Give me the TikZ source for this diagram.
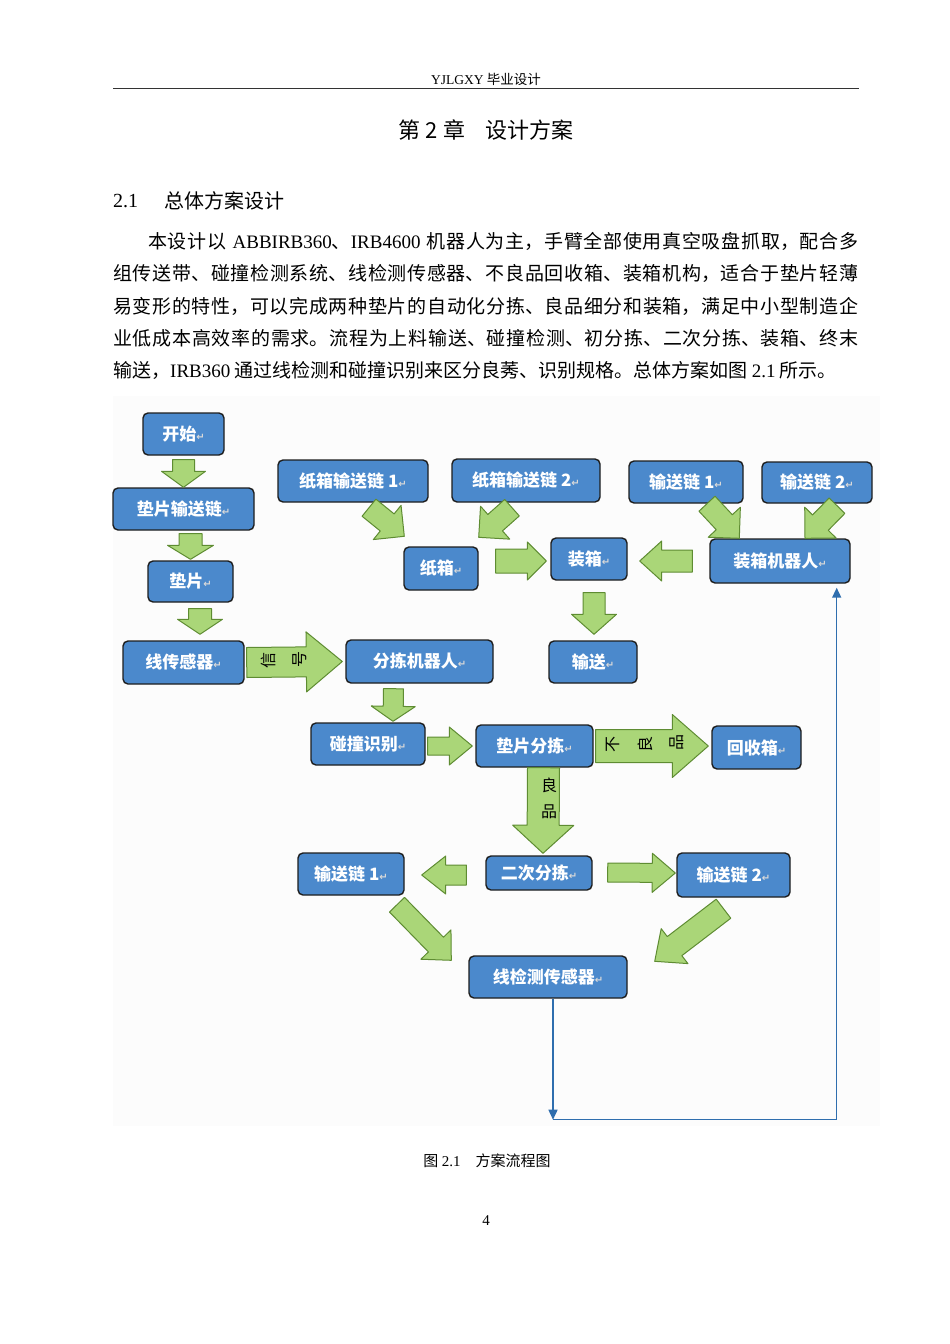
\documentclass[tikz,border=0pt]{standalone}
\usepackage{fontspec}
\setmainfont{Noto Sans CJK SC}
\newfontfamily\lat{Liberation Serif}
\newfontfamily\symf{DejaVu Sans}
\usetikzlibrary{calc,arrows.meta}
\XeTeXlinebreaklocale "zh"
\XeTeXlinebreakskip=0pt plus 1fil
\definecolor{boxblue}{HTML}{4B89CC}
\definecolor{boxline}{HTML}{1E1E1E}
\definecolor{agreen}{HTML}{AAD678}
\definecolor{agreenD}{HTML}{5E8C32}
\definecolor{fbblue}{HTML}{2F6EAE}
\newcommand\ret{{\symf\fontsize{10}{10}\selectfont\color{white!70!gray}↵}}
\newcommand\barrow[5]{%
  \coordinate (ba) at #1; \coordinate (bb) at #2;
  \coordinate (bh) at ($(bb)!#5!(ba)$);
  \draw[blockarrow] ($(ba)!#3!90:(bb)$) -- ($(bh)!#3!90:(bb)$) -- ($(bh)!#4!90:(bb)$) -- (bb)
    -- ($(bh)!#4!-90:(bb)$) -- ($(bh)!#3!-90:(bb)$) -- ($(ba)!#3!-90:(bb)$) -- cycle;}
\tikzset{
  flowbox/.style={draw=boxline, line width=1.4pt, fill=boxblue, rounded corners=5pt,
    inner sep=0pt, text=white, font=\bfseries\fontsize{17}{17}\selectfont},
  blockarrow/.style={fill=agreen, draw=agreenD, line width=1pt, line join=round},
  alabel/.style={inner sep=0pt, text=black, font=\fontsize{16}{16}\selectfont},
  fb/.style={draw=fbblue, line width=1.5pt},
  para/.style={anchor=west, inner sep=0pt, font=\fontsize{19}{21}\selectfont},
}
\begin{document}
\begin{tikzpicture}[x=1pt,y=-1pt]
\fill[white] (0,0) rectangle (950,1344);
\useasboundingbox (0,0) rectangle (950,1344);
% header
\node[inner sep=0pt, font=\fontsize{13.5}{13.5}\selectfont] (hdr) at (486,79) {{\lat YJLGXY} 毕业设计};
\draw[line width=1.5pt, black!80] (113,88.5) -- (859,88.5);
% chapter title
\node[inner sep=0pt, font=\fontsize{22}{22}\selectfont] (chap) at (486,130) {第 2 章\hspace{20pt}设计方案};
% section
\node[anchor=west, inner sep=0pt, font=\fontsize{20}{20}\selectfont] (secn) at (113,201) {{\lat 2.1}};
\node[anchor=west, inner sep=0pt, font=\fontsize{20}{20}\selectfont] (sect) at (164,201) {总体方案设计};
% paragraph
\node[para, text width=710pt] (l1) at (148,241) {\parfillskip=0pt 本设计以 {\lat ABBIRB360}、{\lat IRB4600} 机器人为主，手臂全部使用真空吸盘抓取，配合多\par};
\node[para, text width=745pt] (l2) at (113,273) {\parfillskip=0pt 组传送带、碰撞检测系统、线检测传感器、不良品回收箱、装箱机构，适合于垫片轻薄\par};
\node[para, text width=745pt] (l3) at (113,306) {\parfillskip=0pt 易变形的特性，可以完成两种垫片的自动化分拣、良品细分和装箱，满足中小型制造企\par};
\node[para, text width=745pt] (l4) at (113,338) {\parfillskip=0pt 业低成本高效率的需求。流程为上料输送、碰撞检测、初分拣、二次分拣、装箱、终末\par};
\node[para] (l5) at (113,370) {输送，{\lat IRB360} 通过线检测和碰撞识别来区分良莠、识别规格。总体方案如图 {\lat 2.1} 所示。};
% diagram background
\fill[black!1] (113,396) rectangle (880,1126);
% boxes
\node[flowbox, minimum width=81pt, minimum height=42pt] (ks) at (183.5,434) {开始\ret};
\node[flowbox, minimum width=141pt, minimum height=42pt] (dpsl) at (183.5,509) {垫片输送链\ret};
\node[flowbox, minimum width=85pt, minimum height=41pt] (dp) at (190.5,581.5) {垫片\ret};
\node[flowbox, minimum width=121pt, minimum height=43pt] (xcgq) at (183.5,662.5) {线传感器\ret};
\node[flowbox, minimum width=147pt, minimum height=43pt] (fjjqr) at (419.5,661.5) {分拣机器人\ret};
\node[flowbox, minimum width=150pt, minimum height=42pt] (zx1) at (353,481) {纸箱输送链 1\ret};
\node[flowbox, minimum width=148pt, minimum height=43pt] (zx2) at (526,480.5) {纸箱输送链 2\ret};
\node[flowbox, minimum width=114pt, minimum height=42pt] (ssa) at (686,482) {输送链 1\ret};
\node[flowbox, minimum width=110pt, minimum height=41pt] (ssb) at (817,482.5) {输送链 2\ret};
\node[flowbox, minimum width=74pt, minimum height=43pt] (zx) at (441,568.5) {纸箱\ret};
\node[flowbox, minimum width=76pt, minimum height=42pt] (zhx) at (589,559) {装箱\ret};
\node[flowbox, minimum width=140pt, minimum height=44pt] (zxjqr) at (780,561) {装箱机器人\ret};
\node[flowbox, minimum width=88pt, minimum height=42pt] (ss) at (593,662) {输送\ret};
\node[flowbox, minimum width=114pt, minimum height=42pt] (pzsb) at (368,744) {碰撞识别\ret};
\node[flowbox, minimum width=117pt, minimum height=42pt] (dpfj) at (534.5,746) {垫片分拣\ret};
\node[flowbox, minimum width=89pt, minimum height=43pt] (hsx) at (756.5,747.5) {回收箱\ret};
\node[flowbox, minimum width=106pt, minimum height=34pt] (ecfj) at (539,873) {二次分拣\ret};
\node[flowbox, minimum width=106pt, minimum height=42pt] (ssc) at (351,874) {输送链 1\ret};
\node[flowbox, minimum width=113pt, minimum height=44pt] (ssd) at (733.5,875) {输送链 2\ret};
\node[flowbox, minimum width=158pt, minimum height=42pt] (xjc) at (548,977) {线检测传感器\ret};
% block arrows
\barrow{($(ks.south)+(0,4)$)}{(dpsl.north)}{11pt}{22pt}{16pt}
\barrow{($(dpsl.south)+(7,3)$)}{($(dp.north)+(0,-1)$)}{11.5pt}{23pt}{14pt}
\barrow{($(dp.south)+(9.5,6)$)}{($(xcgq.north)+(16.5,-6)$)}{11.5pt}{22.5pt}{15pt}
\barrow{($(xcgq.east)+(2,0)$)}{($(fjjqr.west)+(-3,0)$)}{15pt}{30pt}{36pt}
\barrow{($(zx1.south)+(16,5)$)}{($(zx.north west)+(1,-10)$)}{11pt}{22pt}{22pt}
\barrow{($(zx2.south)+(-14,5)$)}{($(zx.north east)+(0,-9)$)}{11pt}{22pt}{22pt}
\barrow{($(zx.east)+(17,-7.5)$)}{($(zhx.west)+(-4,2)$)}{12pt}{19pt}{19pt}
\barrow{($(zxjqr.west)+(-17,0)$)}{($(zhx.east)+(12,2)$)}{11pt}{20pt}{22pt}
\barrow{($(ssa.south)+(21,0)$)}{($(zxjqr.north west)+(30,0)$)}{11pt}{22pt}{22pt}
\barrow{($(ssb.south)+(20,2)$)}{($(zxjqr.north)+(25,0)$)}{11pt}{22pt}{22pt}
\barrow{($(zhx.south)+(5,12)$)}{($(ss.north)+(1,-6)$)}{11pt}{22.5pt}{20pt}
\barrow{($(fjjqr.south)+(-26,5)$)}{($(pzsb.north)+(25,-1)$)}{10pt}{22pt}{15pt}
\barrow{($(pzsb.east)+(2,2)$)}{($(dpfj.west)+(-3,0)$)}{9pt}{19pt}{23pt}
\barrow{($(dpfj.east)+(2,0)$)}{($(hsx.west)+(-3,-1.5)$)}{16.5pt}{31.5pt}{36pt}
\barrow{($(dpfj.south)+(9,0)$)}{($(ecfj.north)+(4,-2)$)}{16pt}{30.5pt}{28pt}
\barrow{($(ecfj.west)+(-19,2)$)}{($(ssc.east)+(17,1)$)}{10pt}{19pt}{24pt}
\barrow{($(ecfj.east)+(15,-0.5)$)}{($(ssd.west)+(-1,-2)$)}{9.5pt}{19.5pt}{23pt}
\barrow{($(ssc.south)+(46,9)$)}{($(xjc.north west)+(-17,5)$)}{10.5pt}{21pt}{22pt}
\barrow{($(ssd.south)+(-10,11)$)}{($(xjc.north east)+(27,6)$)}{12pt}{22pt}{25pt}
% arrow labels
\node[alabel] (sig1) at (268,660) {\rotatebox{90}{信}};
\node[alabel] (sig2) at (300,659) {\rotatebox{90}{号}};
\node[alabel] (bl1) at (613,744) {\rotatebox{90}{不}};
\node[alabel] (bl2) at (645,744) {\rotatebox{90}{良}};
\node[alabel] (bl3) at (677,742) {\rotatebox{90}{品}};
\node[alabel] (lp1) at (549,785) {良};
\node[alabel] (lp2) at (549,812) {品};
% feedback line
\coordinate (fb1) at ($(xjc.south)+(5,121)$);
\coordinate (fb3) at ($(zxjqr.south east)+(-14,4)$);
\coordinate (fb2) at (fb3 |- fb1);
\draw[fb, -{Triangle[length=10pt,width=9pt]}] ($(xjc.south)+(5,0)$) -- (fb1);
\draw[fb, -{Triangle[length=10pt,width=9pt]}] (fb1) -- (fb2) -- (fb3);
% caption and page number
\node[inner sep=0pt, font=\fontsize{15}{15}\selectfont] (cap) at (487,1161) {图 {\lat 2.1}\hspace{15pt}方案流程图};
\node[inner sep=0pt, font=\lat\fontsize{15}{15}\selectfont] (pg) at (486,1221) {4};
\end{tikzpicture}
\end{document}
